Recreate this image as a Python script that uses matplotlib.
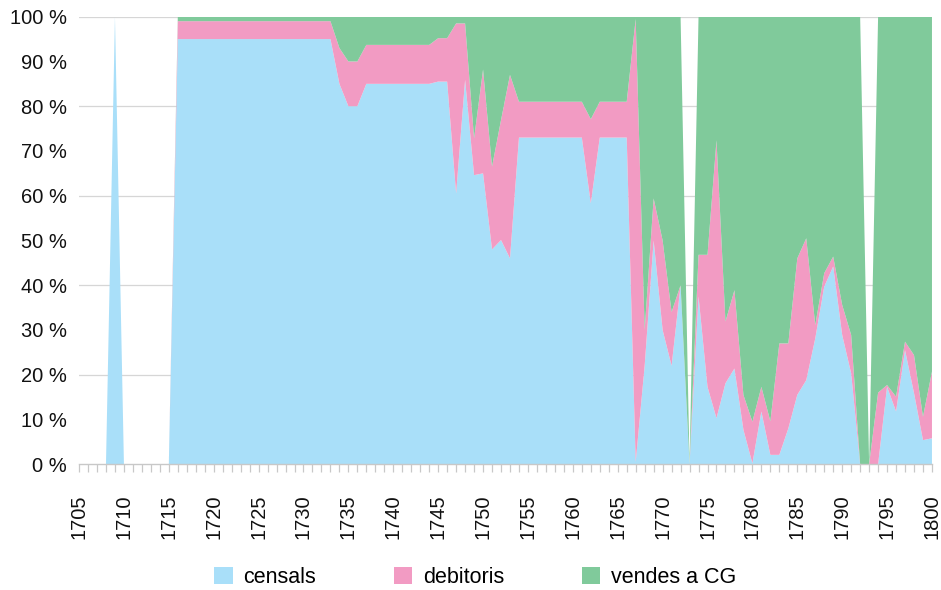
import numpy as np
import matplotlib.pyplot as plt

plt.rcParams["font.family"] = ["Liberation Sans", "DejaVu Sans"]

# anys 1705-1800
years = list(range(1705, 1801))

# percentatges per any (llegits del gràfic)
censals = (
    [0, 0, 0, 0, 100, 0, 0, 0, 0, 0, 0]            # 1705-1715
    + [95] * 18                                     # 1716-1733
    + [85, 80, 80]                                  # 1734-1736
    + [85] * 8                                      # 1737-1744
    + [85.5, 85.5, 60.5, 85.9, 64.6, 65, 48, 50.1, 46]   # 1745-1753
    + [73] * 8                                      # 1754-1761
    + [58.3, 73, 73, 73, 73]                        # 1762-1766
    + [0.5, 22, 50, 30, 22, 40, 0]                  # 1767-1773
    + [37.5, 17.3, 10.3, 18.1, 21.4, 7.7, 0.2, 11.8, 2.1]  # 1774-1782
    + [2.1, 8, 15.5, 18.8, 28.1, 39.7, 44.2, 28.9, 20.3]   # 1783-1791
    + [0, 0, 0, 17.3, 11.8, 25.5, 15.9, 5.4, 5.8]   # 1792-1800
)
debitoris = (
    [0] * 11
    + [4] * 18
    + [8, 10, 10]
    + [8.7] * 8
    + [9.7, 9.7, 38, 12.6, 8.2, 23.2, 18.5, 26.8, 41]
    + [8] * 8
    + [18.8, 8, 8, 8, 8]
    + [99, 8, 9.4, 20, 12, 0, 0]
    + [9.3, 29.5, 62.1, 13.8, 17.5, 7.8, 9.3, 5.5, 7.5]
    + [24.9, 19, 30.5, 31.7, 3, 3, 2.2, 6.7, 8.6]
    + [0, 0, 16, 0.4, 3.3, 1.9, 8.5, 5.2, 14.9]
)
vendes = (
    [0] * 11
    + [1] * 18
    + [7, 10, 10]
    + [6.3] * 8
    + [4.8, 4.8, 1.5, 1.5, 27.2, 11.8, 33.5, 23.1, 13]
    + [19] * 8
    + [22.9, 19, 19, 19, 19]
    + [0.5, 70, 40.6, 50, 66, 60, 0]
    + [53.2, 53.2, 27.6, 68.1, 61.1, 84.5, 90.5, 82.7, 90.4]
    + [73, 73, 54, 49.5, 68.9, 57.3, 53.6, 64.4, 71.1]
    + [100, 0, 84, 82.3, 84.9, 72.6, 75.6, 89.4, 79.3]
)

labels = ["censals", "debitoris", "vendes a CG"]
colors = ["#A9DFF9", "#F29BC3", "#80CA9B"]

fig = plt.figure(figsize=(9.41, 5.9), dpi=100)
ax = fig.add_axes([0.084, 0.2131, 0.9064, 0.7586])

for g in [20, 40, 60, 80, 100]:
    ax.axhline(g, color="#D6D6D6", lw=0.9, zorder=0)

ax.stackplot(years, censals, debitoris, vendes, colors=colors,
             labels=labels, lw=0, zorder=2)

ax.set_xlim(1705, 1800)
ax.set_ylim(0, 100)

ax.set_yticks(range(0, 101, 10))
ax.set_yticklabels([f"{v} %" for v in range(0, 101, 10)], fontsize=14.5,
                   color="#111111")
ax.tick_params(axis="y", length=0, pad=9)

ax.set_xticks(range(1705, 1801, 5))
ax.set_xticks(years, minor=True)
ax.set_xticklabels([str(y) for y in range(1705, 1801, 5)], rotation=90,
                   fontsize=14.5, color="#111111")
ax.tick_params(axis="x", which="both", direction="out", length=6,
               width=0.9, color="#C8C8C8", pad=16)

for s in ["top", "right", "left"]:
    ax.spines[s].set_visible(False)
ax.spines["bottom"].set_color("#C8C8C8")
ax.spines["bottom"].set_linewidth(1.0)
ax.spines["bottom"].set_zorder(3)

handles, labs = ax.get_legend_handles_labels()
fig.legend(handles, labs, loc="lower center", bbox_to_anchor=(0.505, -0.03),
           ncol=3, frameon=False, fontsize=15.5, handlelength=0.85,
           handleheight=0.85, handletextpad=0.5, columnspacing=3.6)

fig.savefig("out.png", dpi=100)
